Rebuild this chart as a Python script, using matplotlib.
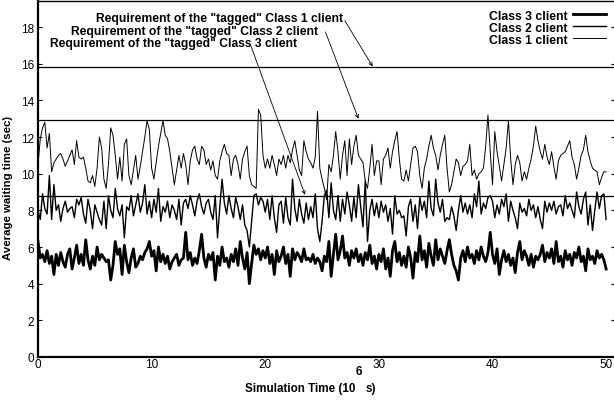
import numpy as np
import matplotlib
matplotlib.use("Agg")
from matplotlib import pyplot as plt

plt.rcParams["font.family"] = ["Liberation Sans", "DejaVu Sans"]

# simulation time (10^6 s), sampled every 0.2
time = np.linspace(0, 50, 251)

class1 = [
    10.5, 11.9, 12.5, 12.8, 11.4, 12.2, 10.1, 10.6, 10.8, 11.0, 11.1, 10.8, 10.4, 10.7, 11.0, 11.3, 10.5, 11.8, 10.9, 10.8, 10.9, 10.3, 9.6, 9.5, 9.9,
    9.3, 10.3, 12.0, 11.4, 9.7, 9.2, 10.5, 12.5, 12.1, 11.0, 9.7, 10.9, 9.6, 11.6, 11.9, 9.9, 9.4, 10.2, 11.0, 9.7, 10.4, 11.2, 12.0, 12.9, 12.4,
    10.3, 9.7, 10.6, 11.5, 12.2, 12.9, 12.1, 11.9, 11.2, 10.3, 9.4, 10.2, 11.0, 10.3, 11.1, 10.5, 9.4, 10.7, 11.3, 11.5, 10.8, 10.5, 11.5, 11.3, 10.5,
    10.8, 10.2, 10.7, 9.9, 9.7, 10.7, 11.2, 11.6, 11.1, 11.0, 9.9, 10.8, 11.0, 10.5, 9.7, 10.8, 11.2, 11.5, 9.9, 9.4, 9.3, 9.2, 13.5, 13.2, 11.0,
    10.3, 10.8, 10.3, 11.0, 10.5, 9.9, 10.8, 10.5, 11.0, 10.3, 11.0, 10.6, 11.3, 11.8, 11.0, 10.2, 9.9, 11.8, 11.2, 10.8, 10.6, 10.3, 10.9, 13.4, 10.3,
    9.7, 9.2, 8.6, 10.5, 10.1, 11.0, 12.3, 11.2, 9.7, 11.0, 11.8, 9.9, 11.9, 10.5, 11.5, 12.1, 11.0, 10.8, 10.6, 9.6, 9.2, 10.3, 11.6, 9.9, 10.7,
    10.7, 9.4, 10.8, 11.0, 11.4, 10.3, 11.2, 11.8, 12.3, 10.8, 9.7, 9.6, 10.2, 9.6, 10.5, 11.4, 11.5, 11.2, 9.9, 9.2, 10.3, 10.8, 11.5, 12.1, 11.4,
    11.0, 10.2, 11.0, 11.6, 12.1, 10.3, 9.0, 9.4, 10.1, 10.8, 10.6, 9.9, 10.4, 10.5, 10.7, 11.6, 9.9, 10.2, 9.7, 10.0, 10.1, 10.3, 11.5, 13.2, 11.2,
    9.4, 12.3, 11.2, 10.4, 9.6, 10.5, 11.4, 12.9, 10.8, 9.4, 10.5, 11.0, 10.6, 9.6, 10.1, 9.7, 10.3, 10.8, 11.5, 12.6, 11.8, 11.2, 10.8, 11.6, 10.9,
    10.5, 11.2, 10.4, 9.7, 10.7, 11.0, 11.1, 11.2, 11.5, 11.8, 10.9, 10.5, 9.7, 10.3, 11.0, 11.3, 12.1, 11.2, 10.7, 10.3, 10.2, 10.1, 9.4, 9.8, 10.1,
    10.1,
]

class2 = [
    8.0, 7.5, 8.9, 8.1, 7.8, 9.9, 7.5, 9.4, 8.0, 8.3, 7.4, 8.1, 8.5, 7.9, 8.1, 8.2, 7.6, 8.6, 8.3, 8.7, 7.8, 7.3, 8.6, 8.0, 7.0,
    8.3, 7.9, 7.5, 7.2, 8.5, 7.0, 8.8, 8.0, 7.6, 9.2, 8.1, 7.7, 8.3, 6.5, 8.2, 8.0, 8.8, 7.7, 8.3, 8.9, 7.9, 8.4, 9.4, 7.8, 8.5,
    7.6, 8.6, 7.9, 9.2, 7.4, 8.2, 7.9, 8.5, 7.6, 8.3, 8.0, 7.5, 8.6, 7.2, 8.4, 8.6, 8.1, 8.8, 8.3, 7.7, 8.5, 8.9, 8.2, 7.8, 8.4,
    8.6, 7.9, 7.5, 8.8, 6.5, 8.2, 9.7, 8.4, 7.8, 8.8, 8.1, 7.6, 8.7, 8.2, 7.5, 8.3, 7.2, 6.9, 6.0, 7.4, 8.8, 8.9, 8.3, 8.7, 8.5,
    7.9, 8.6, 7.5, 8.8, 7.6, 6.8, 8.3, 8.5, 7.3, 8.7, 7.6, 7.2, 9.7, 8.1, 7.4, 8.6, 7.8, 7.3, 8.4, 7.5, 8.2, 7.6, 8.9, 7.0, 6.3,
    7.4, 8.8, 9.1, 7.6, 9.5, 8.0, 7.5, 8.8, 7.4, 8.6, 7.8, 9.0, 8.3, 7.4, 8.7, 7.6, 9.4, 8.2, 7.1, 9.6, 6.3, 8.0, 8.6, 7.7, 8.4,
    7.6, 8.5, 7.9, 8.3, 7.4, 8.1, 6.7, 8.8, 7.8, 8.0, 7.6, 7.7, 6.6, 8.2, 8.6, 7.4, 8.3, 7.0, 8.7, 8.0, 8.5, 7.6, 9.6, 8.1, 7.7,
    9.7, 8.4, 7.9, 8.6, 7.4, 7.6, 7.5, 8.2, 7.7, 6.9, 8.0, 8.8, 7.9, 8.4, 7.8, 8.3, 7.6, 8.9, 8.2, 9.6, 7.8, 8.4, 8.1, 8.7, 8.8,
    8.5, 7.6, 8.3, 7.8, 8.6, 8.2, 8.9, 7.4, 8.5, 8.0, 7.6, 7.0, 8.4, 7.9, 8.1, 7.7, 8.6, 8.0, 8.3, 7.6, 8.2, 7.5, 7.0, 8.5, 7.9,
    8.4, 8.0, 8.5, 7.8, 8.2, 8.3, 7.7, 8.8, 8.1, 8.4, 8.0, 7.6, 9.0, 8.2, 7.8, 8.6, 9.0, 7.2, 8.3, 6.9, 8.0, 9.0, 8.1, 8.8, 8.9,
    7.5,
]

class3 = [
    6.3, 5.4, 5.6, 5.2, 5.8, 5.1, 5.5, 4.5, 5.6, 5.0, 5.7, 5.2, 4.9, 5.6, 5.9, 4.8, 5.4, 6.1, 5.1, 5.6, 5.0, 6.4, 5.3, 4.8, 5.5,
    5.0, 6.0, 5.3, 5.6, 5.4, 5.2, 5.3, 4.2, 5.0, 6.3, 5.6, 5.9, 4.5, 6.1, 5.2, 4.6, 5.4, 5.9, 4.9, 5.1, 5.5, 5.3, 5.7, 5.9, 6.3,
    5.5, 5.8, 4.7, 6.0, 5.2, 5.6, 5.1, 5.5, 4.8, 5.2, 5.4, 5.6, 5.0, 5.3, 5.4, 6.8, 5.3, 5.7, 5.0, 5.4, 5.1, 5.8, 6.7, 5.4, 4.9,
    5.6, 5.3, 5.7, 4.2, 5.5, 5.0, 6.0, 5.2, 5.4, 4.9, 5.6, 5.2, 5.9, 5.0, 6.3, 5.4, 4.8, 5.7, 4.0, 5.1, 6.1, 5.6, 5.9, 5.3, 5.8,
    5.4, 6.0, 5.1, 5.6, 4.5, 5.8, 5.2, 5.5, 6.0, 5.1, 5.6, 4.4, 5.9, 5.3, 5.7, 5.5, 5.2, 5.9, 5.3, 5.4, 5.2, 5.6, 5.1, 5.4, 5.2,
    4.7, 5.5, 5.2, 6.3, 4.4, 5.6, 6.7, 5.3, 5.8, 6.6, 5.4, 5.7, 5.0, 5.8, 5.4, 5.9, 5.2, 5.6, 5.0, 5.7, 5.3, 6.1, 5.1, 5.5, 4.8,
    5.6, 5.2, 5.9, 4.8, 5.4, 4.4, 5.8, 6.3, 5.2, 5.7, 5.0, 5.5, 4.9, 6.0, 5.4, 4.3, 5.7, 5.2, 6.6, 5.3, 5.8, 4.9, 6.2, 5.5, 5.0,
    6.4, 5.3, 5.9, 5.5, 5.1, 5.8, 6.4, 5.6, 5.0, 4.7, 4.2, 5.4, 5.8, 5.2, 6.0, 5.4, 5.6, 5.1, 5.8, 5.3, 6.0, 5.5, 5.2, 5.7, 6.8,
    5.6, 5.1, 5.9, 4.5, 5.3, 5.8, 5.2, 5.6, 5.0, 5.4, 4.6, 5.7, 6.3, 5.3, 5.8, 5.5, 5.0, 5.6, 4.9, 5.5, 5.3, 5.6, 6.1, 5.2, 5.7,
    5.4, 5.9, 5.1, 6.3, 5.2, 5.5, 4.9, 5.8, 5.3, 5.6, 5.0, 5.7, 5.4, 6.0, 5.2, 5.5, 4.7, 5.9, 5.3, 5.5, 5.1, 5.8, 5.4, 5.6, 5.3,
    4.8,
]

# required waiting time of the "tagged" clients (class 1, 2, 3)
requirements = [15.8, 12.95, 8.8]
req_labels = [
    'Requirement of the "tagged" Class 1 client',
    'Requirement of the "tagged" Class 2 client',
    'Requirement of the "tagged" Class 3 client',
]
arrow_tips = [29.45, 28.2, 23.5]

fig = plt.figure(figsize=(6.14, 4.02), dpi=100)
ax = fig.add_axes([38 / 614, 1 - 358 / 402, 1 - 38 / 614 + 0.002, 356 / 402])

for req in requirements:
    ax.axhline(req, color="black", lw=0.9)

ax.plot(time, class3, color="black", lw=2.0, label="Class 3 client")
ax.plot(time, class2, color="black", lw=1.0, label="Class 2 client")
ax.plot(time, class1, color="black", lw=0.7, label="Class 1 client")

ax.set_xlim(0, 50.8)
ax.set_ylim(0, 19.42)
ax.set_xticks([0, 10, 20, 30, 40, 50])
ax.set_yticks(range(0, 20, 2))
ax.tick_params(direction="in", length=3, width=0.8, labelsize=8.5, right=True, pad=3)
ax.tick_params(axis="x", length=0, pad=0.5)
for side in ["left", "bottom"]:
    ax.spines[side].set_linewidth(1.6)
ax.spines["top"].set_linewidth(1.0)

ax.set_ylabel("Average waiting time (sec)", fontsize=8.2, fontweight="bold")
ax.yaxis.set_label_coords(-0.043, 0.478)

# x label drawn in pieces so that the exponent sits like the original
fig.text(355 / 614, 1 - 389 / 402, "Simulation Time (10", fontsize=8.4,
         fontweight="bold", ha="right", va="center")
fig.text(359 / 614, 1 - 372 / 402, "6", fontsize=8.4, fontweight="bold",
         ha="center", va="center")
fig.text(366 / 614, 1 - 389 / 402, "s)", fontsize=8.4, fontweight="bold",
         ha="left", va="center")

# annotation texts with arrows pointing at the requirement lines
text_pos = [(26.8, 18.5), (24.6, 17.8), (22.75, 17.15)]
arrow_start = [(27.0, 18.35), (25.3, 17.73), (18.75, 16.95)]
for label, req, tip, pos, start in zip(req_labels, requirements, arrow_tips, text_pos, arrow_start):
    ax.text(pos[0], pos[1], label, fontsize=8.7, fontweight="bold", va="center", ha="right")
    ax.annotate("", xy=(tip, req + 0.05), xytext=start,
                arrowprops=dict(arrowstyle="->", lw=0.6, color="black",
                                shrinkA=0, shrinkB=0, mutation_scale=6))

leg = ax.legend(loc="upper right", bbox_to_anchor=(0.9985, 1.0), frameon=False,
                markerfirst=False, fontsize=8.8, handlelength=2.7,
                handletextpad=0.4, labelspacing=0.0, borderpad=0.2)
for t in leg.get_texts():
    t.set_fontweight("bold")

fig.savefig("out.png", dpi=100)
